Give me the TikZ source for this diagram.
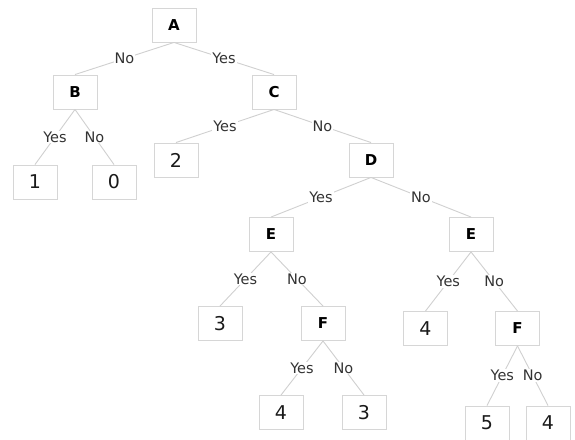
\documentclass[tikz,border=0pt]{standalone}
\usepackage{fontspec}
\setmainfont{DejaVu Sans}
\definecolor{boxline}{HTML}{D6D6D6}
\definecolor{edgeline}{HTML}{D0D0D0}
\definecolor{labtext}{HTML}{333333}
\definecolor{numtext}{HTML}{1A1A1A}
\begin{document}
\begin{tikzpicture}[x=1bp,y=-1bp,
  boxnode/.style={draw=boxline,line width=0.9bp,fill=white,minimum width=44bp,minimum height=34bp,inner sep=0pt},
  decision/.style={boxnode,font=\fontsize{15bp}{17bp}\selectfont\bfseries,text=black},
  leaf/.style={boxnode,font=\fontsize{19bp}{21bp}\selectfont,text=numtext},
  edge/.style={draw=edgeline,line width=0.9bp},
  lab/.style={fill=white,inner sep=1pt,font=\fontsize{14.5bp}{16bp}\selectfont,text=labtext}]
\useasboundingbox (0,0) rectangle (575,440);
\fill[white] (0,0) rectangle (575,440);
% nodes
\node[decision] (A) at (174,25) {A};
\node[decision] (B) at (75,92) {B};
\node[decision] (C) at (274,92) {C};
\node[leaf] (l1) at (35,182) {1};
\node[leaf] (l0) at (114,182) {0};
\node[leaf] (l2) at (176,160) {2};
\node[decision] (D) at (371,160) {D};
\node[decision] (E1) at (271,234.5) {E};
\node[decision] (E2) at (471,234.5) {E};
\node[leaf] (l3) at (220,323.5) {3};
\node[decision] (F1) at (323,323.5) {F};
\node[leaf] (l4a) at (425.5,328.5) {4};
\node[decision] (F2) at (517.5,328.5) {F};
\node[leaf] (l4b) at (281,412.5) {4};
\node[leaf] (l3b) at (364,412.5) {3};
\node[leaf] (l5) at (487,423) {5};
\node[leaf] (l4c) at (548,423) {4};
% edges
\foreach \p/\c/\t in {A/B/No, A/C/Yes, B/l1/Yes, B/l0/No, C/l2/Yes, C/D/No,
  D/E1/Yes, D/E2/No, E1/l3/Yes, E1/F1/No, E2/l4a/Yes, E2/F2/No,
  F1/l4b/Yes, F1/l3b/No, F2/l5/Yes, F2/l4c/No}
  \path[edge] (\p.south) -- node[lab] {\t} (\c.north);
\end{tikzpicture}
\end{document}
